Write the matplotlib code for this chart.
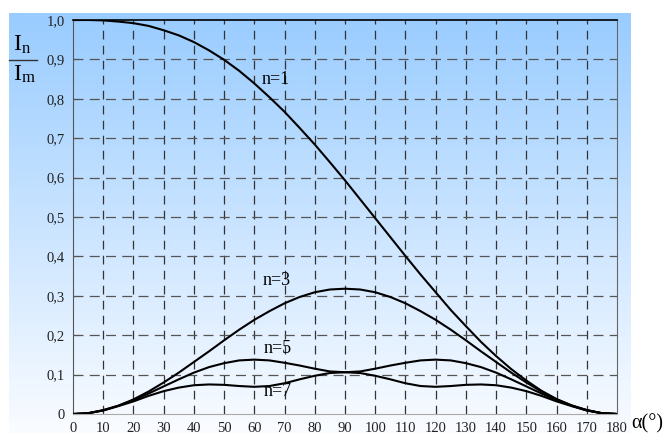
import numpy as np
import matplotlib.pyplot as plt
from matplotlib.lines import Line2D

# alpha em graus, passo de 5
alfa = list(range(0, 185, 5))

n1 = [1.000, 1.000, 0.999, 0.996, 0.992, 0.985, 0.974, 0.961, 0.944, 0.923,
      0.899, 0.871, 0.839, 0.804, 0.767, 0.726, 0.684, 0.639, 0.593, 0.545,
      0.497, 0.449, 0.401, 0.354, 0.309, 0.264, 0.223, 0.183, 0.147, 0.114,
      0.085, 0.059, 0.038, 0.022, 0.010, 0.002, 0.000]
n3 = [0.000, 0.002, 0.010, 0.021, 0.037, 0.057, 0.080, 0.105, 0.132, 0.159,
      0.187, 0.214, 0.239, 0.261, 0.281, 0.297, 0.309, 0.316, 0.318, 0.316,
      0.309, 0.297, 0.281, 0.261, 0.239, 0.214, 0.187, 0.159, 0.132, 0.105,
      0.080, 0.057, 0.037, 0.021, 0.010, 0.002, 0.000]
n5 = [0.000, 0.002, 0.009, 0.021, 0.035, 0.052, 0.070, 0.088, 0.105, 0.119,
      0.129, 0.136, 0.138, 0.136, 0.130, 0.123, 0.115, 0.108, 0.106, 0.108,
      0.115, 0.123, 0.130, 0.136, 0.138, 0.136, 0.129, 0.119, 0.105, 0.088,
      0.070, 0.052, 0.035, 0.021, 0.009, 0.002, 0.000]
n7 = [0.000, 0.002, 0.009, 0.020, 0.032, 0.046, 0.058, 0.067, 0.073, 0.075,
      0.074, 0.071, 0.069, 0.071, 0.078, 0.088, 0.097, 0.104, 0.106, 0.104,
      0.097, 0.088, 0.078, 0.071, 0.069, 0.071, 0.074, 0.075, 0.073, 0.067,
      0.058, 0.046, 0.032, 0.020, 0.009, 0.002, 0.000]

rotulos = ['n=1', 'n=3', 'n=5', 'n=7']
pos_rotulos = [(67, 0.85), (67.5, 0.34), (67.8, 0.165), (67.8, 0.056)]

xticks = list(range(0, 190, 10))
yticks = [i / 10 for i in range(11)]
ylabels = ['0'] + ['%.1f' % v for v in yticks[1:]]
ylabels = [s.replace('.', ',') for s in ylabels]

serif = 'Liberation Serif'
W, H = 665, 437

fig = plt.figure(figsize=(6.65, 4.37), dpi=100)

# fundo em degradê azul -> branco
bg = fig.add_axes([9 / W, (H - 433) / H, 622 / W, 420 / H])
topo = np.array([153, 204, 255]) / 255
base = np.array([250, 252, 255]) / 255
t = np.linspace(0, 1, 256)[:, None]
grad = topo * (1 - t) + base * t
bg.imshow(grad[:, None, :], aspect='auto', extent=[0, 1, 0, 1])
bg.axis('off')

ax = fig.add_axes([73 / W, (H - 414) / H, 544 / W, 394 / H])
ax.patch.set_alpha(0)

for serie in [n1, n3, n5, n7]:
    ax.plot(alfa, serie, color='black', lw=1.5, zorder=3)

for txt, (x, y) in zip(rotulos, pos_rotulos):
    ax.text(x, y, txt, ha='center', va='center', fontsize=13, family=serif)

for x in xticks[1:-1]:
    ax.axvline(x, color='#333333', lw=0.9, dashes=(7, 5), zorder=1)
for y in yticks[1:-1]:
    ax.axhline(y, color='#555555', lw=0.9, dashes=(8, 5), zorder=1)

ax.set_xlim(0, 180)
ax.set_ylim(0, 1.0)
ax.set_xticks(xticks)
ax.set_xticklabels([str(x) for x in xticks], family=serif, fontsize=10.5)
ax.set_yticks(yticks)
ax.set_yticklabels(ylabels, family=serif, fontsize=10.5)
ax.tick_params(axis='x', length=0, pad=6, colors='#222222')
ax.tick_params(axis='y', direction='in', length=4, pad=6, color='#555555', labelcolor='#222222')

ax.spines['top'].set_color('black')
ax.spines['top'].set_linewidth(1.2)
ax.spines['left'].set_color('#555555')
ax.spines['right'].set_color('#666666')
ax.spines['bottom'].set_color('#aaaaaa')

# rótulo do eixo y em forma de fração
fig.text(13 / W, 1 - 45 / H, 'I', fontsize=17, family=serif, va='center')
fig.text(22 / W, 1 - 49 / H, 'n', fontsize=12, family=serif, va='center')
fig.text(13 / W, 1 - 74 / H, 'I', fontsize=17, family=serif, va='center')
fig.text(22 / W, 1 - 78 / H, 'm', fontsize=12, family=serif, va='center')
fig.add_artist(Line2D([9 / W, 37 / W], [1 - 60 / H, 1 - 60 / H], color='#333333', lw=1,
                      transform=fig.transFigure))

fig.text(663 / W, 1 - 424 / H, 'α(°)', fontsize=14.5, family=serif, va='center', ha='right')

fig.savefig('out.png', dpi=100)
